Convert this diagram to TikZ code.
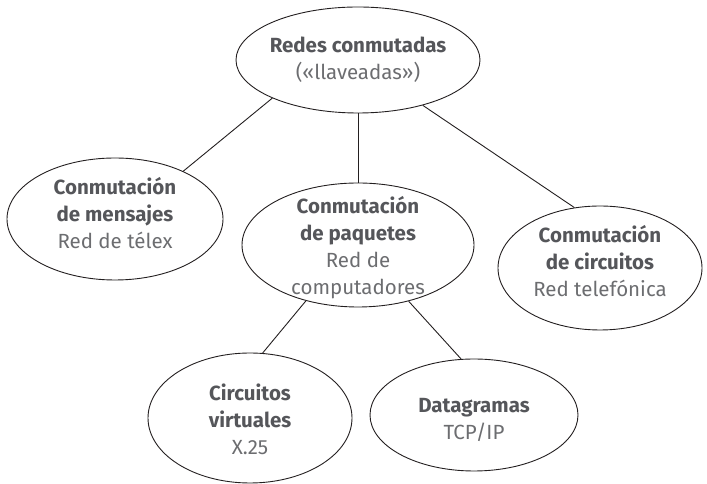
\documentclass[tikz,border=0pt]{standalone}
\usepackage{fontspec}
\setmainfont{Fira Sans}
\usetikzlibrary{shapes.geometric}

\definecolor{grisbold}{RGB}{85,86,90}
\definecolor{grisreg}{RGB}{108,109,112}
\definecolor{trazo}{RGB}{35,31,32}

% titolo in grassetto dentro le ellissi
\newcommand{\tit}[1]{{\bfseries\color{grisbold}#1}}

\begin{document}
\begin{tikzpicture}[x=1pt, y=1pt, line width=0.9pt, draw=trazo,
    burbuja/.style={draw=trazo, ellipse, inner sep=0pt},
    testo/.style={align=center, inner sep=0pt, text=grisreg,
                  font=\fontsize{20.5}{27}\selectfont}]

    \useasboundingbox (0,0) rectangle (707,484);

    % -- Ellissi --
    \node[burbuja, minimum width=244, minimum height=106] (redes) at (358,424) {};
    \node[burbuja, minimum width=216, minimum height=122] (mensajes) at (115,265) {};
    \node[burbuja, minimum width=232, minimum height=124] (paquetes) at (358,239) {};
    \node[burbuja, minimum width=204, minimum height=124] (circuitos) at (600,216) {};
    \node[burbuja, minimum width=204, minimum height=130] (virtuales) at (250,66) {};
    \node[burbuja, minimum width=208, minimum height=112] (datagramas) at (474,69) {};

    % -- Testi --
    \node[testo] (redes-t) at (358,424) {\tit{Redes conmutadas}\\(«llaveadas»)};
    \node[testo] (mensajes-t) at (115,271) {\tit{Conmutación}\\\tit{de mensajes}\\Red de télex};
    \node[testo] (paquetes-t) at (358,236) {\tit{Conmutación}\\\tit{de paquetes}\\Red de\\computadores};
    \node[testo] (circuitos-t) at (600,223) {\tit{Conmutación}\\\tit{de circuitos}\\Red telefónica};
    \node[testo] (virtuales-t) at (250,65) {\tit{Circuitos}\\\tit{virtuales}\\X.25};
    \node[testo] (datagramas-t) at (474,64) {\tit{Datagramas}\\TCP/IP};

    % -- Collegamenti --
    \draw (redes.-156) -- (mensajes.35);
    \draw (redes.south) -- (paquetes.north);
    \draw (redes.-35) -- (circuitos.113);
    \draw (paquetes.-133) -- (virtuales.79);
    \draw (paquetes.-48) -- (datagramas.103);
\end{tikzpicture}
\end{document}
